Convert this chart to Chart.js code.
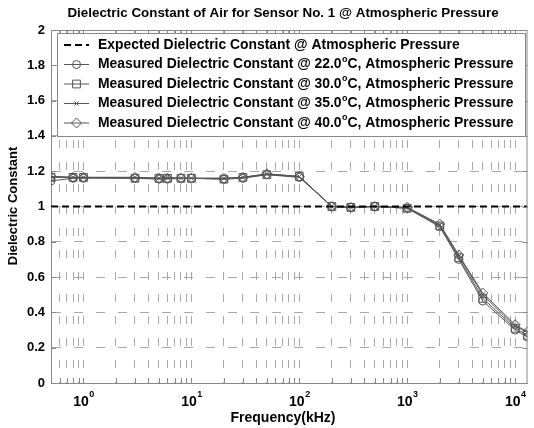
<!DOCTYPE html>
<html>
<head>
<meta charset="utf-8">
<script src="https://cdn.jsdelivr.net/npm/chart.js@4.4.0/dist/chart.umd.min.js"></script>
<style>
  body { margin: 0; background: #fff; }
  canvas { display: block; }
</style>
</head>
<body>
<canvas id="grafico" width="534" height="428"></canvas>
<script>
// Frequências medidas (kHz)
const frequencias = [0.5, 0.8, 1, 3, 5, 6, 8, 10, 20, 30, 50, 100, 200, 300, 500, 1000, 2000, 3000, 5000, 10000, 13000];

// Constante dielétrica medida em cada temperatura
const eps22 = [1.145, 1.16, 1.16, 1.16, 1.155, 1.155, 1.16, 1.16, 1.155, 1.16, 1.18, 1.165, 1.0, 0.995, 1.0, 0.99, 0.885, 0.70, 0.465, 0.30, 0.26];
const eps30 = [1.165, 1.165, 1.165, 1.16, 1.16, 1.16, 1.16, 1.16, 1.155, 1.165, 1.18, 1.17, 1.0, 0.995, 1.0, 0.99, 0.89, 0.71, 0.48, 0.31, 0.27];
const eps35 = [1.17, 1.165, 1.165, 1.165, 1.16, 1.165, 1.16, 1.16, 1.16, 1.165, 1.185, 1.17, 1.0, 0.995, 1.0, 0.995, 0.895, 0.72, 0.50, 0.32, 0.29];
const eps40 = [1.17, 1.165, 1.165, 1.165, 1.16, 1.16, 1.16, 1.16, 1.16, 1.165, 1.185, 1.17, 1.0, 0.995, 1.0, 0.995, 0.90, 0.725, 0.51, 0.33, 0.29];

// Valor esperado (linha tracejada)
const freqEsperada = [0.5, 13000];
const epsEsperada = [1, 1];

const rotulos = [
    'Expected Dielectric Constant @ Atmospheric Pressure',
    'Measured Dielectric Constant @ 22.0°C, Atmospheric Pressure',
    'Measured Dielectric Constant @ 30.0°C, Atmospheric Pressure',
    'Measured Dielectric Constant @ 35.0°C, Atmospheric Pressure',
    'Measured Dielectric Constant @ 40.0°C, Atmospheric Pressure'
];

// Rótulos dos eixos
const decadas = [0, 1, 2, 3, 4]; // 10^n no eixo x
const ticksY = ['0', '0.2', '0.4', '0.6', '0.8', '1', '1.2', '1.4', '1.6', '1.8', '2'];

const titulo = 'Dielectric Constant of Air for Sensor No. 1 @ Atmospheric Pressure';
const tituloX = 'Frequency(kHz)';
const tituloY = 'Dielectric Constant';

const FONTE = '"Liberation Sans", Arial, sans-serif';
const CINZA = '#555';
const GRADE = '#a8a8a8';

function pontos(xs, ys) {
    return xs.map((x, i) => ({ x: x, y: ys[i] }));
}

function serie(label, ys, estilo, raio) {
    return {
        label: label,
        data: pontos(frequencias, ys),
        borderColor: CINZA,
        borderWidth: 1,
        pointStyle: estilo,
        pointRadius: raio,
        pointBorderColor: CINZA,
        pointBorderWidth: 1,
        pointBackgroundColor: 'rgba(0,0,0,0)',
        tension: 0
    };
}

const datasets = [
    {
        label: rotulos[0],
        data: pontos(freqEsperada, epsEsperada),
        borderColor: '#000',
        borderWidth: 2,
        borderDash: [7, 4],
        pointRadius: 0
    },
    serie(rotulos[1], eps22, 'circle', 4),
    serie(rotulos[2], eps30, 'rect', 5.5),
    serie(rotulos[3], eps35, 'crossRot', 3),
    serie(rotulos[4], eps40, 'rectRot', 5)
];

// Desenha moldura, rótulos, títulos e legenda no estilo MATLAB
const moldura = {
    id: 'moldura',
    afterDraw(chart) {
        const ctx = chart.ctx;
        const a = chart.chartArea;
        const sx = chart.scales.x;
        const sy = chart.scales.y;
        ctx.save();

        // borda superior e direita
        ctx.strokeStyle = '#888';
        ctx.lineWidth = 1;
        ctx.beginPath();
        ctx.moveTo(a.left, a.top + 0.5);
        ctx.lineTo(a.right - 0.5, a.top + 0.5);
        ctx.lineTo(a.right - 0.5, a.bottom);
        ctx.stroke();

        // marcas internas
        ctx.beginPath();
        sx.ticks.forEach(t => {
            const px = Math.round(sx.getPixelForValue(t.value)) + 0.5;
            ctx.moveTo(px, a.bottom); ctx.lineTo(px, a.bottom - 5);
            ctx.moveTo(px, a.top); ctx.lineTo(px, a.top + 5);
        });
        sy.ticks.forEach(t => {
            const py = Math.round(sy.getPixelForValue(t.value)) + 0.5;
            ctx.moveTo(a.left, py); ctx.lineTo(a.left + 5, py);
            ctx.moveTo(a.right, py); ctx.lineTo(a.right - 5, py);
        });
        ctx.stroke();

        // rótulos 10^n
        ctx.fillStyle = '#000';
        ctx.textBaseline = 'alphabetic';
        ctx.textAlign = 'left';
        decadas.forEach(n => {
            const px = sx.getPixelForValue(Math.pow(10, n));
            ctx.font = 'bold 14px ' + FONTE;
            const w1 = ctx.measureText('10').width;
            ctx.font = 'bold 9px ' + FONTE;
            const w2 = ctx.measureText(String(n)).width;
            const x0 = px - (w1 + w2) / 2;
            ctx.font = 'bold 14px ' + FONTE;
            ctx.fillText('10', x0, a.bottom + 23);
            ctx.font = 'bold 9px ' + FONTE;
            ctx.fillText(String(n), x0 + w1 + 0.5, a.bottom + 14);
        });

        // títulos
        ctx.textAlign = 'center';
        ctx.textBaseline = 'middle';
        ctx.font = 'bold 13.4px ' + FONTE;
        ctx.fillText(titulo, 283, 13);
        ctx.font = 'bold 14px ' + FONTE;
        ctx.fillText(tituloX, 283, 418);
        ctx.save();
        ctx.translate(13, 206);
        ctx.rotate(-Math.PI / 2);
        ctx.font = 'bold 13px ' + FONTE;
        ctx.fillText(tituloY, 0, 0);
        ctx.restore();

        // legenda
        const lx = a.left + 6, ly = a.top + 3, lw = 468, lh = 103;
        ctx.fillStyle = '#fff';
        ctx.fillRect(lx, ly, lw, lh);
        ctx.strokeStyle = '#888';
        ctx.strokeRect(lx + 0.5, ly + 0.5, lw, lh);
        chart.data.datasets.forEach((ds, i) => {
            const y = ly + 12 + i * 19.5;
            ctx.save();
            ctx.strokeStyle = ds.borderColor;
            ctx.lineWidth = ds.borderWidth;
            ctx.setLineDash(ds.borderDash || []);
            ctx.beginPath();
            ctx.moveTo(lx + 7, y); ctx.lineTo(lx + 32, y);
            ctx.stroke();
            ctx.restore();
            if (ds.pointRadius > 0) {
                ctx.save();
                ctx.strokeStyle = ds.pointBorderColor;
                ctx.fillStyle = 'rgba(0,0,0,0)';
                ctx.lineWidth = 1;
                Chart.helpers.drawPoint(ctx, { pointStyle: ds.pointStyle, radius: ds.pointRadius, rotation: 0, borderWidth: 1 }, lx + 19.5, y);
                ctx.restore();
            }
            // texto com 'o' sobrescrito para o grau
            ctx.fillStyle = '#000';
            ctx.textAlign = 'left';
            ctx.textBaseline = 'middle';
            const partes = ds.label.split('°');
            let tx = lx + 41;
            ctx.font = 'bold 13.9px ' + FONTE;
            ctx.fillText(partes[0], tx, y);
            if (partes.length > 1) {
                tx += ctx.measureText(partes[0]).width;
                ctx.font = 'bold 9px ' + FONTE;
                ctx.fillText('o', tx + 0.5, y - 5);
                tx += ctx.measureText('o').width + 0.5;
                ctx.font = 'bold 13.9px ' + FONTE;
                ctx.fillText(partes[1], tx, y);
            }
        });
        ctx.restore();
    }
};

var ctx = document.getElementById('grafico');
var grafico = new Chart(ctx, {
    type: 'line',
    data: { datasets: datasets },
    options: {
        responsive: false,
        animation: false,
        devicePixelRatio: 1,
        layout: { padding: { top: 30, right: 3, left: 0, bottom: 0 } },
        plugins: {
            legend: { display: false },
            title: { display: false },
            tooltip: { enabled: false }
        },
        scales: {
            x: {
                type: 'logarithmic',
                min: 0.5,
                max: 13000,
                afterFit(scale) { scale.height = 45; },
                afterBuildTicks(scale) {
                    const t = [];
                    for (let d = -1; d <= 4; d++) {
                        for (let m = 1; m <= 9; m++) {
                            const v = m * Math.pow(10, d);
                            if (v > 0.5 && v < 13000) t.push({ value: v });
                        }
                    }
                    scale.ticks = t;
                },
                ticks: { display: false },
                grid: { color: GRADE, drawTicks: false },
                border: { display: true, color: '#888', dash: [8, 14] }
            },
            y: {
                min: 0,
                max: 2,
                afterFit(scale) { scale.width = 51; },
                ticks: {
                    stepSize: 0.2,
                    padding: 6,
                    color: '#000',
                    font: { family: FONTE, weight: 'bold', size: 13 },
                    callback: (v, i) => ticksY[i]
                },
                grid: { color: GRADE, drawTicks: false },
                border: { display: true, color: '#888', dash: [9, 13] }
            }
        }
    },
    plugins: [moldura]
});
</script>
</body>
</html>
